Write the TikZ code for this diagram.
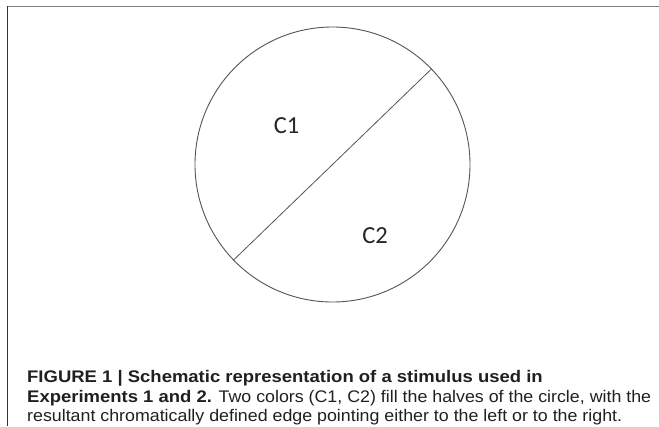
\documentclass[tikz,border=0pt]{standalone}
\usepackage{fontspec}
\setmainfont{Liberation Sans}[FakeStretch=1.06, BoldFeatures={FakeStretch=1.1}]
\newfontfamily\labelfont{Carlito}
\definecolor{captext}{HTML}{231F20}
\definecolor{circline}{HTML}{555555}
\begin{document}
\begin{tikzpicture}[x=1pt,y=-1pt,
  cl/.style={font=\labelfont\fontsize{24.5}{24.5}\selectfont, inner sep=0pt, text=black!85},
  captxt/.style={anchor=base west, inner sep=0pt, text=captext, font=\fontsize{16.8}{20}\selectfont}]
\useasboundingbox (0,0) rectangle (659,426);
\fill[white] (0,0) rectangle (659,426);
% frame
\draw[line width=1.5pt, black!50] (7,6.5) -- (659,6.5);
\draw[line width=1.2pt, black!80] (7.5,6) -- (7.5,426);
% circle
\node[circle, draw=circline, line width=0.9pt, minimum size=275pt, inner sep=0pt] (circ) at (332.5,164.5) {};
\draw[circline, line width=0.8pt] (circ.224.4) -- (circ.44.4);
\node[cl] (c1) at (286.5,126) {C1};
\node[cl] (c2) at (375,236) {C2};
% caption
\node[captxt] (l1) at (27,382) {\bfseries FIGURE 1 | Schematic representation of a stimulus used in};
\node[captxt] (l2) at (27,402) {\textbf{Experiments 1 and 2.} Two colors (C1, C2) fill the halves of the circle, with the};
\node[captxt] (l3) at (27,421.5) {resultant chromatically defined edge pointing either to the left or to the right.};
\end{tikzpicture}
\end{document}
